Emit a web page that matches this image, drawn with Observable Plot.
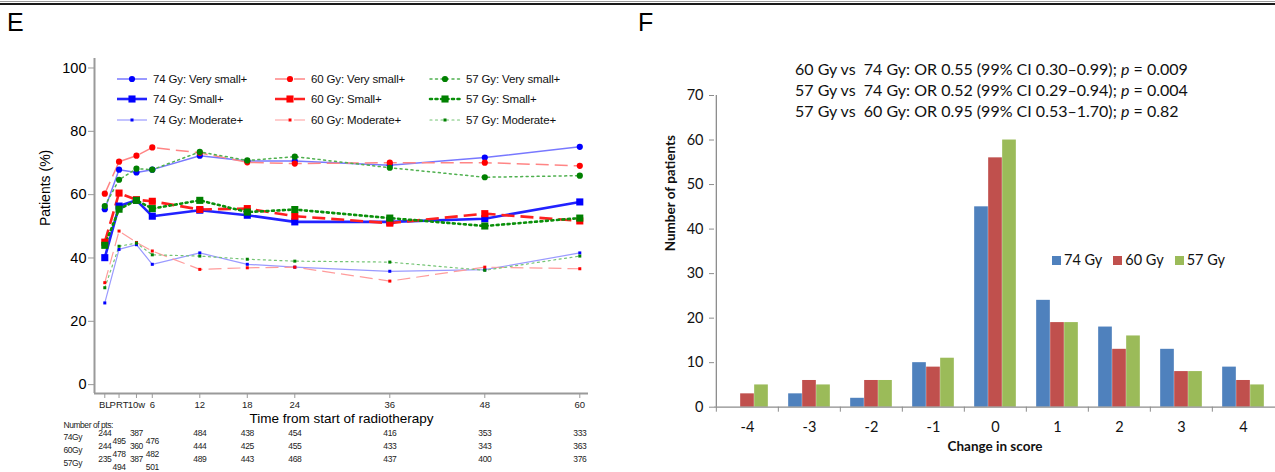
<!DOCTYPE html>
<html><head><meta charset="utf-8">
<script src="https://cdn.jsdelivr.net/npm/d3@7"></script>
<script src="https://cdn.jsdelivr.net/npm/@observablehq/plot@0.6"></script>
<style>
body{margin:0;width:1275px;height:472px;overflow:hidden;background:#fff;position:relative;font-family:"Liberation Sans",Arial,sans-serif;}
.abs{position:absolute;}
svg{overflow:visible;}
#table text{letter-spacing:-0.45px;}
.li{position:absolute;display:flex;align-items:center;font-size:11.5px;color:#111;white-space:nowrap;letter-spacing:-0.15px;}
.li svg{margin-right:6px;}
.ri{display:flex;align-items:center;margin-right:11px;}
.ri span.sw{display:inline-block;width:9px;height:9px;margin-right:3px;}
</style></head><body>
<div class="abs" style="left:0;top:3px;width:1275px;height:2px;background:#1a1a1a"></div>
<div class="abs" style="left:0;top:1px;width:1275px;height:1px;background:#999"></div>
<div class="abs" style="left:7px;top:8px;font-size:25px;line-height:28px;">E</div>
<div class="abs" style="left:638px;top:8px;font-size:25px;line-height:28px;">F</div>
<div id="left" class="abs" style="left:0;top:40px"></div>
<div id="table" class="abs" style="left:0;top:415px"></div>
<div id="leg" class="abs" style="left:0;top:0"></div>
<div id="right" class="abs" style="left:640px;top:80px"></div>
<div id="ann" class="abs" style="left:795px;top:58px;font-family:Lato,sans-serif;font-size:16px;line-height:21px;white-space:pre;color:#111"></div>
<div id="rleg" class="abs" style="left:1052px;top:251px;display:flex;font-family:Lato,sans-serif;font-size:14.5px;line-height:18px;color:#111"></div>
<script>
// ---------------- Panel E data ----------------
const timeLabels = ["BL","PRT","10w","6","12","18","24","36","48","60"];
const timeMonths = [0, 1.8, 4, 6, 12, 18, 24, 36, 48, 60];
const doses = ["74 Gy","60 Gy","57 Gy"];
const levels = ["Very small+","Small+","Moderate+"];
const verySmall74 = [55.4, 67.9, 67.0, 67.9, 72.3, 70.6, 70.6, 69.3, 71.7, 75.1];
const verySmall60 = [60.3, 70.4, 72.3, 74.9, 73.2, 70.2, 69.8, 70.1, 70.1, 69.1];
const verySmall57 = [56.4, 64.7, 68.2, 67.9, 73.5, 70.8, 72.0, 68.5, 65.5, 66.0];
const small74 = [40.1, 56.4, 58.2, 53.2, 55.1, 53.5, 51.4, 51.4, 52.4, 57.7];
const small60 = [45.0, 60.5, 58.4, 57.9, 55.3, 55.6, 53.2, 51.0, 54.0, 51.7];
const small57 = [44.0, 55.4, 58.2, 55.6, 58.2, 54.5, 55.3, 52.6, 50.1, 52.6];
const moderate74 = [25.8, 42.7, 44.2, 38.0, 41.6, 38.0, 37.1, 35.8, 36.3, 41.6];
const moderate60 = [32.2, 48.5, 44.9, 42.2, 36.4, 36.9, 37.1, 32.7, 37.1, 36.6];
const moderate57 = [30.6, 43.7, 44.7, 41.0, 40.6, 39.6, 39.0, 38.7, 36.1, 40.6];
const tableRows = ["74Gy","60Gy","57Gy"];
const nPts74 = [244, 495, 387, 476, 484, 438, 454, 416, 353, 333];
const nPts60 = [244, 478, 360, 482, 444, 425, 455, 433, 343, 363];
const nPts57 = [235, 494, 387, 501, 489, 443, 468, 437, 400, 376];
const yTicksE = [0, 20, 40, 60, 80, 100];

// ---------------- Panel F data ----------------
const changes = ["-4","-3","-2","-1","0","1","2","3","4"];
const groups = ["74 Gy","60 Gy","57 Gy"];
const count74 = [0, 3, 2, 10, 45, 24, 18, 13, 9];
const count60 = [3, 6, 6, 9, 56, 19, 13, 8, 6];
const count57 = [5, 5, 6, 11, 60, 19, 16, 8, 5];
const yTicksF = [0, 10, 20, 30, 40, 50, 60, 70];
const annotLines = [
  ["60 Gy vs  74 Gy: OR 0.55 (99% CI 0.30\u20130.99); ", "p", " = 0.009"],
  ["57 Gy vs  74 Gy: OR 0.52 (99% CI 0.29\u20130.94); ", "p", " = 0.004"],
  ["57 Gy vs  60 Gy: OR 0.95 (99% CI 0.53\u20131.70); ", "p", " = 0.82"]
];

// ---------------- styles ----------------
const valueArrays = [[verySmall74, small74, moderate74],[verySmall60, small60, moderate60],[verySmall57, small57, moderate57]];
const doseStyle = [
  {mark:"#0000ff", lines:["#7878ff","#2222ff","#9a9aff"], dash:null},
  {mark:"#ff0000", lines:["#ff8585","#ff2020","#ff9c9c"], dash:"13,6"},
  {mark:"#008000", lines:["#4fb04f","#0a900a","#74c474"], dash:"2,3.5"}
];
const levelStyle = [
  {width:1.5, symbol:"circle", r:3.1},
  {width:2.6, symbol:"square", r:4.0},
  {width:1.2, symbol:"square", r:1.7}
];

const rows = [];
doses.forEach((d, di) => levels.forEach((l, li) => valueArrays[di][li].forEach((v, i) =>
  rows.push({dose: d, level: l, t: timeMonths[i], v}))));

const xDomE = [-1.3, 61.1];
const yDomE = [-2.8, 103];
const axisGray = "#9a9a9a";

const lineMarks = [];
doses.forEach((d, di) => levels.forEach((l, li) => {
  const data = rows.filter(r => r.dose === d && r.level === l);
  lineMarks.push(Plot.line(data, {x:"t", y:"v", stroke: doseStyle[di].lines[li], strokeWidth: levelStyle[li].width,
    strokeDasharray: doseStyle[di].dash, strokeLinecap: di === 2 ? "round" : "butt"}));
}));
const dotMarks = [];
doses.forEach((d, di) => levels.forEach((l, li) => {
  const data = rows.filter(r => r.dose === d && r.level === l);
  dotMarks.push(Plot.dot(data, {x:"t", y:"v", symbol: levelStyle[li].symbol, r: levelStyle[li].r, fill: doseStyle[di].mark, stroke: "none"}));
}));

const leftPlot = Plot.plot({
  width: 640, height: 400,
  marginLeft: 94, marginRight: 52, marginTop: 18, marginBottom: 47,
  x: {domain: xDomE},
  y: {domain: yDomE},
  style: {fontFamily: "'Liberation Sans', Arial, sans-serif", background: "transparent", color: "#000", maxWidth: "none"},
  marks: [
    ...lineMarks,
    ...dotMarks,
    Plot.ruleX([xDomE[0]], {stroke: axisGray, strokeWidth: 2}),
    Plot.ruleY([yDomE[0]], {stroke: axisGray, strokeWidth: 2}),
    Plot.axisY({ticks: yTicksE, tickSize: 6, tickPadding: 2, fontSize: 14.5, stroke: axisGray, fill: "#000", label: null}),
    Plot.axisX({ticks: timeMonths, tickFormat: (d) => timeLabels[timeMonths.indexOf(d)], tickSize: 5, tickPadding: 3, fontSize: 9.5,
      stroke: axisGray, fill: "#222", label: null}),
    Plot.text(["Patients (%)"], {frameAnchor: "left", rotate: -90, dx: -49, fontSize: 14}),
    Plot.text(["Time from start of radiotherapy"], {frameAnchor: "bottom", dy: 29, fontSize: 13.5})
  ]
});
document.getElementById("left").appendChild(leftPlot);

// Number-of-patients table under panel E
const nArrays = [nPts74, nPts60, nPts57];
const tRows = [];
tableRows.forEach((r, ri) => nArrays[ri].forEach((n, i) => tRows.push({row: r, t: timeMonths[i], n, col: i})));
const lowered = new Set([1, 3]);
const tablePlot = Plot.plot({
  width: 640, height: 57,
  marginLeft: 94, marginRight: 52, marginTop: 17.5, marginBottom: 12,
  x: {domain: xDomE, axis: null},
  y: {type: "point", domain: tableRows, padding: 0, axis: null},
  style: {fontFamily: "'Liberation Sans', Arial, sans-serif", background: "transparent", color: "#222", maxWidth: "none"},
  marks: [
    Plot.text(tRows.filter(d => !lowered.has(d.col)), {x: "t", y: "row", text: "n", fontSize: 8.5}),
    Plot.text(tRows.filter(d => lowered.has(d.col)), {x: "t", y: "row", text: "n", fontSize: 8.5, dy: 8}),
    Plot.text(tableRows, {y: d => d, frameAnchor: "left", textAnchor: "start", dx: -31, dy: 4, fontSize: 8.5}),
    Plot.text(["Number of pts:"], {frameAnchor: "top-left", textAnchor: "start", dx: -31, dy: -11, fontSize: 8.5})
  ]
});
document.getElementById("table").appendChild(tablePlot);

// Legend for panel E
const legCols = [117, 275, 430];
const legRows = [79, 99, 119.5];
const leg = document.getElementById("leg");
doses.forEach((d, di) => levels.forEach((l, li) => {
  const item = document.createElement("div");
  item.className = "li";
  item.style.left = legCols[di] + "px";
  item.style.top = (legRows[li] - 8) + "px";
  item.style.height = "16px";
  const st = doseStyle[di], ls = levelStyle[li];
  let marker;
  if (ls.symbol === "circle") marker = `<circle cx="15" cy="8" r="${ls.r}" fill="${st.mark}"/>`;
  else { const s = ls.r * 1.772; marker = `<rect x="${15 - s/2}" y="${8 - s/2}" width="${s}" height="${s}" fill="${st.mark}"/>`; }
  item.innerHTML = `<svg width="30" height="16"><line x1="0" x2="30" y1="8" y2="8" stroke="${st.lines[li]}" stroke-width="${ls.width}" ${st.dash ? `stroke-dasharray="${st.dash}"` : ""} ${di === 2 ? 'stroke-linecap="round"' : ""}/>${marker}</svg><span>${d}: ${l}</span>`;
  leg.appendChild(item);
}));

// ---------------- Panel F ----------------
const groupColors = ["#4F81BD", "#C0504D", "#9BBB59"];
const countArrays = [count74, count60, count57];
const fW = 635, fML = 74, fMR = 0;
const bw = (fW - fML - fMR) / changes.length;
const barW = 14;
const inset = (bw - barW) / 2;
const barMarks = groups.map((g, gi) => Plot.barY(changes.map((c, i) => ({c, v: countArrays[gi][i]})),
  {x: "c", y: "v", fill: groupColors[gi], insetLeft: inset, insetRight: inset, dx: (gi - 1) * barW}));
const fGray = "#8c8c8c";
const rightPlot = Plot.plot({
  width: fW, height: 392,
  marginLeft: fML, marginRight: fMR, marginTop: 15, marginBottom: 65.3,
  x: {domain: changes, padding: 0},
  y: {domain: [0, 70]},
  style: {fontFamily: "Lato, sans-serif", background: "transparent", color: "#111", maxWidth: "none"},
  marks: [
    ...barMarks,
    Plot.ruleY([0], {stroke: fGray, strokeWidth: 1.3}),
    Plot.ruleX([changes[0]], {dx: -bw / 2, stroke: fGray, strokeWidth: 1.3}),
    Plot.axisY({ticks: yTicksF, tickSize: 5, tickPadding: 6, fontSize: 14.5, stroke: fGray, fill: "#111", label: null}),
    Plot.axisX({tickSize: 5, tickFormat: () => "", dx: -bw / 2, stroke: fGray, label: null}),
    Plot.axisX({tickSize: 0, tickPadding: 15, fontSize: 14.5, fill: "#111", label: null}),
    Plot.text(["Number of patients"], {frameAnchor: "left", rotate: -90, dx: -44, fontSize: 13.5, fontWeight: "bold"}),
    Plot.text(["Change in score"], {frameAnchor: "bottom", dy: 44, fontSize: 13.5, fontWeight: "bold"})
  ]
});
document.getElementById("right").appendChild(rightPlot);

const ann = document.getElementById("ann");
ann.innerHTML = annotLines.map(([a, p, b]) => `<div>${a}<i>${p}</i>${b}</div>`).join("");

const rleg = document.getElementById("rleg");
groups.forEach((g, gi) => {
  const el = document.createElement("div");
  el.className = "ri";
  el.innerHTML = `<span class="sw" style="background:${groupColors[gi]}"></span><span>${g}</span>`;
  rleg.appendChild(el);
});
</script>
</body></html>
